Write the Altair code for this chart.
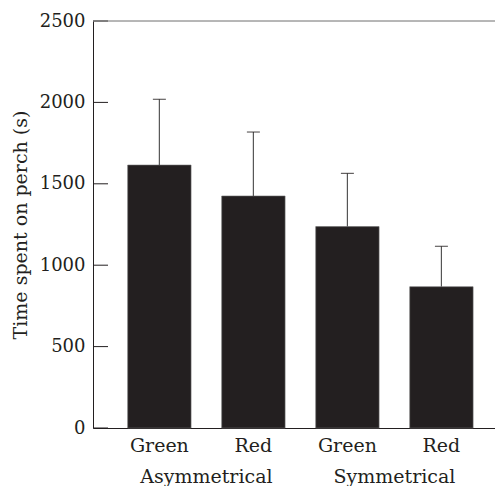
import altair as alt
import pandas as pd

groups = ["Asymmetrical", "Asymmetrical", "Symmetrical", "Symmetrical"]
colours = ["Green", "Red", "Green", "Red"]
means = [1615, 1425, 1237, 868]
sems = [404, 393, 327, 248]
y_ticks = [0, 500, 1000, 1500, 2000, 2500]
group_names = ["Asymmetrical", "Symmetrical"]

keys = [g + " " + c for g, c in zip(groups, colours)]
df = pd.DataFrame({
    "key": keys,
    "colour": colours,
    "mean": means,
    "upper": [m + s for m, s in zip(means, sems)],
})
ticks_df = pd.DataFrame({"v": y_ticks})
grp_df = pd.DataFrame({"key": [keys[0], keys[2]], "label": group_names})

W, H = 402, 407
INK = "#231f20"
FONT = "DejaVu Serif"

xscale = alt.Scale(domain=keys, paddingInner=0.326, paddingOuter=0.301, align=0.613)
xaxis = alt.Axis(title=None, ticks=False, tickSize=0, labelAngle=0, labelPadding=8,
                 labelFontSize=19, labelColor=INK, domainColor=INK, domainWidth=1,
                 labelExpr="split(datum.label, ' ')[1]", grid=False)
yscale = alt.Scale(domain=[0, 2500], nice=False, zero=True)
yaxis = alt.Axis(values=y_ticks, format="d", ticks=False, tickSize=0, labelPadding=8,
                 labelFontSize=18, labelColor=INK, domainColor=INK, domainWidth=1,
                 grid=False, titleFontSize=19, titleFontWeight="normal", titleColor=INK,
                 titleX=-67, titleY=H / 2, titleAngle=270, titleBaseline="alphabetic")
YT = "Time spent on perch (s)"

def X():
    return alt.X("key:N", scale=xscale, axis=xaxis)

def Y(field):
    return alt.Y(field, scale=yscale, axis=yaxis, title=YT)

bars = alt.Chart(df).mark_bar(color=INK, stroke="#6a6a6a", strokeWidth=0.6).encode(
    x=X(), y=Y("mean:Q"))

stems = alt.Chart(df).mark_rule(color="#555555", strokeWidth=1.2).encode(
    x=X(), y=Y("mean:Q"), y2="upper:Q")

caps = alt.Chart(df).mark_tick(color=INK, thickness=1.2, size=13).encode(
    x=X(), y=Y("upper:Q"))

tick_rules = alt.Chart(ticks_df).mark_rule(color=INK, strokeWidth=1).encode(
    y=Y("v:Q"), x=alt.value(0), x2=alt.value(15))

top_line = alt.Chart(pd.DataFrame({"v": [y_ticks[-1]]})).mark_rule(
    color="#6f6f6f", strokeWidth=1).encode(
    y=Y("v:Q"), x=alt.value(0), x2=alt.value(W))

grp_text = alt.Chart(grp_df).mark_text(
    font=FONT, fontSize=19, color=INK, dx=47, baseline="alphabetic", align="center"
).encode(x=X(), y=alt.value(H + 55), text="label:N")

chart = alt.layer(bars, stems, caps, tick_rules, top_line, grp_text).properties(
    width=W, height=H,
    autosize=alt.AutoSizeParams(type="none"),
    padding={"left": 85, "top": 13, "right": 0, "bottom": 60},
).configure(font=FONT).configure_view(stroke=None)

chart.save("out.html", embed_options={"renderer": "svg", "actions": False})
